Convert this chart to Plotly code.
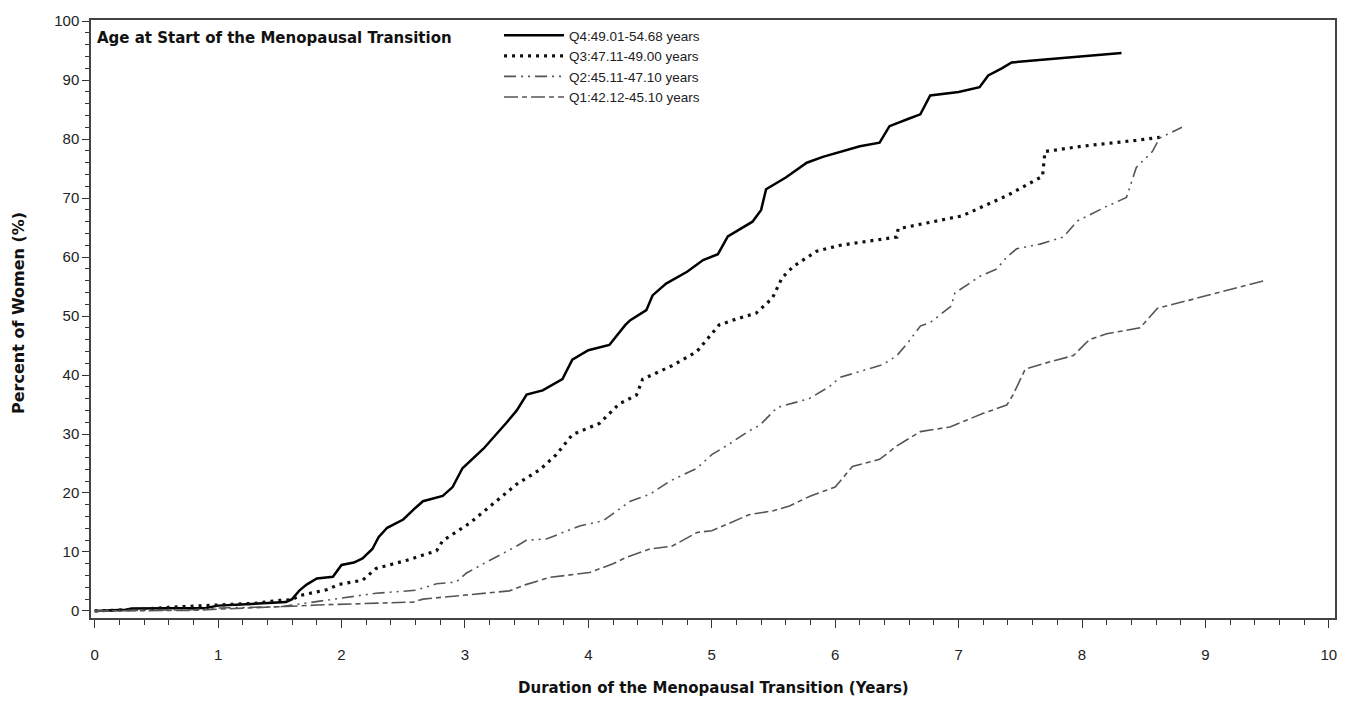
import plotly.graph_objects as go

# ---- data ----
series_names = ["Q4:49.01-54.68 years", "Q3:47.11-49.00 years",
                "Q2:45.11-47.10 years", "Q1:42.12-45.10 years"]

q4_x = [0, 0.25, 0.3, 0.9, 1.0, 1.3, 1.55, 1.6, 1.66, 1.72, 1.8, 1.93, 2.0, 2.1, 2.17,
        2.25, 2.3, 2.37, 2.5, 2.6, 2.66, 2.82, 2.9, 2.98, 3.15, 3.34, 3.42, 3.5, 3.63,
        3.79, 3.87, 4.0, 4.17, 4.3, 4.34, 4.47, 4.52, 4.63, 4.8, 4.93, 5.05, 5.13, 5.33,
        5.4, 5.44, 5.6, 5.77, 5.9, 6.04, 6.2, 6.36, 6.44, 6.6, 6.69, 6.77, 7.0, 7.17,
        7.24, 7.35, 7.43, 7.7, 8.0, 8.32]
q4_y = [0, 0.2, 0.4, 0.5, 0.9, 1.2, 1.5, 2.0, 3.5, 4.5, 5.5, 5.8, 7.8, 8.2, 8.9,
        10.5, 12.5, 14.1, 15.5, 17.5, 18.6, 19.5, 21, 24.2, 27.5, 32, 34, 36.7, 37.4,
        39.3, 42.6, 44.2, 45.1, 48.5, 49.3, 51, 53.5, 55.5, 57.5, 59.5, 60.5, 63.5, 66,
        68, 71.5, 73.5, 76, 77, 77.8, 78.8, 79.4, 82.2, 83.5, 84.2, 87.4, 88, 88.8,
        90.8, 92, 93, 93.5, 94, 94.6]

q3_x = [0, 0.4, 0.6, 1.0, 1.3, 1.5, 1.6, 1.66, 1.74, 1.88, 1.98, 2.17, 2.28, 2.53, 2.77,
        2.82, 3.04, 3.28, 3.42, 3.61, 3.74, 3.87, 4.09, 4.25, 4.39, 4.44, 4.68, 4.88,
        5.06, 5.2, 5.36, 5.49, 5.57, 5.66, 5.85, 6.04, 6.5, 6.51, 7.03, 7.4, 7.68, 7.7,
        8.0, 8.44, 8.63]
q3_y = [0, 0.3, 0.6, 1.0, 1.3, 1.8, 1.9, 2.6, 3.0, 3.6, 4.5, 5.2, 7.2, 8.6, 10.2,
        11.9, 14.9, 19.1, 21.5, 24, 26.5, 29.9, 31.8, 35.1, 36.6, 39.3, 41.6, 44,
        48.5, 49.5, 50.5, 53, 56.5, 58.4, 61, 62, 63.4, 64.8, 67, 70.5, 73.7, 77.9,
        78.8, 79.8, 80.3]

q2_x = [0, 0.8, 1.0, 1.5, 1.6, 1.8, 1.98, 2.28, 2.6, 2.77, 2.93, 3.01, 3.15, 3.31, 3.42,
        3.5, 3.66, 3.93, 4.12, 4.34, 4.5, 4.66, 4.88, 5.0, 5.12, 5.3, 5.39, 5.53, 5.79,
        5.95, 6.04, 6.39, 6.5, 6.59, 6.69, 6.77, 6.94, 6.97, 7.17, 7.31, 7.39, 7.47,
        7.66, 7.85, 7.96, 8.2, 8.36, 8.44, 8.48, 8.57, 8.63, 8.81]
q2_y = [0, 0.2, 0.5, 0.7, 1.0, 1.6, 2.2, 3.0, 3.5, 4.6, 4.9, 6.4, 8.0, 9.7, 11,
        12, 12.2, 14.4, 15.3, 18.6, 19.8, 22, 24.2, 26.5, 28, 30.5, 31.5, 34.5, 36,
        38, 39.6, 41.8, 43.3, 45.5, 48.3, 48.9, 51.7, 53.9, 56.7, 58, 60, 61.4,
        62.2, 63.4, 66.1, 68.6, 70.1, 75.2, 76, 77.9, 80.2, 82]

q1_x = [0, 0.8, 1.0, 1.3, 1.6, 1.8, 2.1, 2.58, 2.66, 3.0, 3.36, 3.5, 3.69, 4.01, 4.2,
        4.31, 4.5, 4.68, 4.88, 5.0, 5.1, 5.3, 5.5, 5.63, 5.8, 6.0, 6.04, 6.14, 6.36,
        6.5, 6.69, 6.93, 7.2, 7.39, 7.44, 7.54, 7.7, 7.93, 8.06, 8.2, 8.47, 8.61, 8.87,
        9.2, 9.48]
q1_y = [0, 0.1, 0.3, 0.5, 0.8, 1.0, 1.2, 1.5, 2.0, 2.7, 3.4, 4.5, 5.7, 6.5, 8,
        9.1, 10.5, 11, 13.3, 13.6, 14.5, 16.3, 17, 17.8, 19.5, 21, 22, 24.5, 25.7,
        28, 30.4, 31.2, 33.5, 34.9, 36.6, 41, 42, 43.3, 46, 47, 48, 51.3, 52.7,
        54.5, 56]

x_ticks = list(range(0, 11))
y_ticks = list(range(0, 101, 10))

NARROW = "Liberation Sans Narrow, Arial Narrow, Liberation Sans, Arial, sans-serif"
BOLD = "DejaVu Sans, Verdana, Liberation Sans, sans-serif"

fig = go.Figure()
fig.add_trace(go.Scatter(x=q4_x, y=q4_y, mode="lines", name=series_names[0],
                         line=dict(color="#000000", width=2.5)))
fig.add_trace(go.Scatter(x=q3_x, y=q3_y, mode="lines", name=series_names[1],
                         line=dict(color="#111111", width=3.2, dash="3px,5px")))
fig.add_trace(go.Scatter(x=q2_x, y=q2_y, mode="lines", name=series_names[2],
                         line=dict(color="#555555", width=1.6,
                                   dash="12px,5px,2px,5px,2px,5px")))
fig.add_trace(go.Scatter(x=q1_x, y=q1_y, mode="lines", name=series_names[3],
                         line=dict(color="#555555", width=1.6,
                                   dash="14px,4px,5px,4px")))

fig.update_layout(
    width=1352, height=702,
    margin=dict(l=91, r=17, t=14, b=84),
    paper_bgcolor="white", plot_bgcolor="white",
    font=dict(family=NARROW, size=15, color="#222222"),
    showlegend=True,
    legend=dict(x=0.328, y=1.0, xanchor="left", yanchor="top",
                bgcolor="rgba(0,0,0,0)", itemwidth=60, tracegroupgap=0,
                font=dict(family=NARROW, size=13.5, color="#222222")),
    xaxis=dict(range=[-0.03, 10.05], tickmode="array", tickvals=x_ticks,
               ticks="outside", ticklen=8, tickwidth=1.3, tickcolor="#333333",
               minor=dict(dtick=0.2, tick0=0, ticks="outside", ticklen=5,
                          tickwidth=1.2, tickcolor="#333333", showgrid=False),
               showgrid=False, zeroline=False, showline=True, linecolor="#444444",
               linewidth=1.5, mirror=True, tickfont=dict(family=NARROW, size=15),
               ticklabelstandoff=14),
    yaxis=dict(range=[-1.2, 100.2], tickmode="array", tickvals=y_ticks,
               ticks="outside", ticklen=7, tickwidth=1.3, tickcolor="#333333",
               minor=dict(dtick=2, tick0=0, ticks="outside", ticklen=4,
                          tickwidth=1.2, tickcolor="#333333", showgrid=False),
               showgrid=False, zeroline=False, showline=True, linecolor="#444444",
               linewidth=1.5, mirror=True, tickfont=dict(family=NARROW, size=15)),
    annotations=[
        dict(text="<b>Age at Start of the Menopausal Transition</b>", x=0.003, y=0.9707,
             xref="paper", yref="paper", xanchor="left", yanchor="middle",
             showarrow=False, font=dict(family=BOLD, size=15, color="#111111")),
        dict(text="<b>Duration of the Menopausal Transition (Years)</b>", x=0.5, y=0,
             xref="paper", yref="paper", xanchor="center", yanchor="middle",
             yshift=-70, showarrow=False, font=dict(family=BOLD, size=15, color="#111111")),
        dict(text="<b>Percent of Women (%)</b>", x=0, y=0.51, xref="paper", yref="paper",
             xanchor="center", yanchor="middle", xshift=-73, textangle=-90,
             showarrow=False, font=dict(family=BOLD, size=16, color="#111111")),
    ],
)

fig.write_html(
    "out.html",
    config={"displayModeBar": False},
    post_script="document.body.style.margin='0';document.body.style.padding='0';"
                "document.body.style.overflow='hidden';",
)
